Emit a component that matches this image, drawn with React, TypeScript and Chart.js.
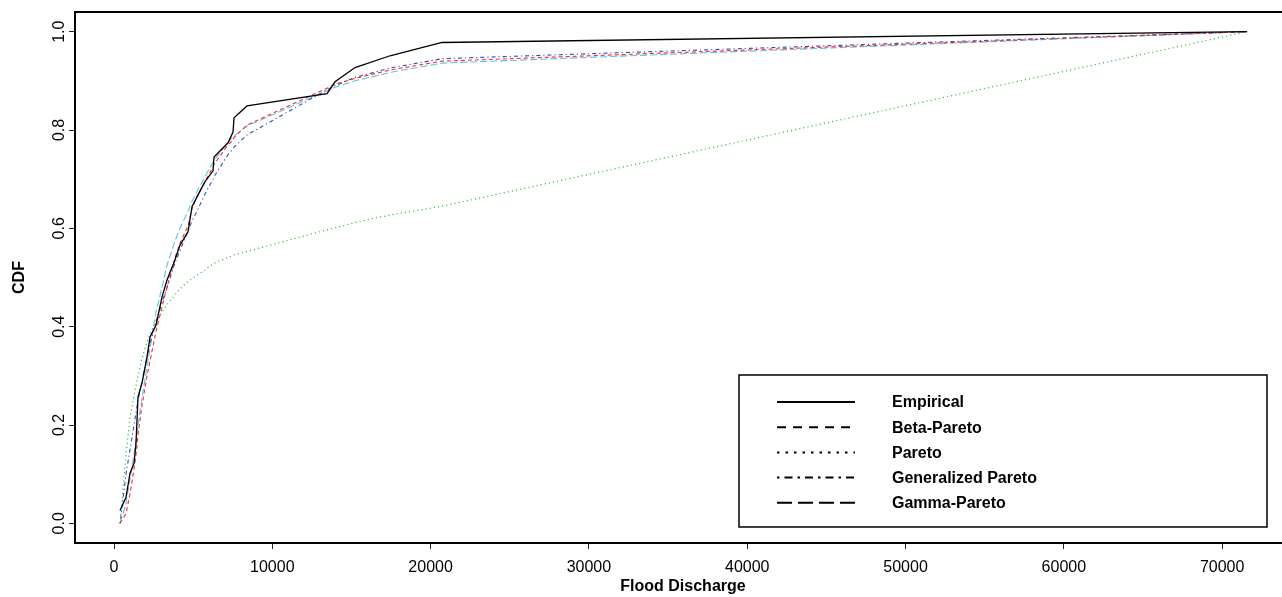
import React, { useEffect, useRef } from "react";
import { Chart, registerables } from "chart.js";

Chart.register(...registerables);

// Flood discharge observations (sorted) at which the CDFs are drawn
const discharge = [379, 758, 1011, 1264, 1390, 1516, 1769, 2085, 2274, 2653, 3032, 3348, 3854, 4170, 4675, 4928, 5243, 5749, 6254, 6318, 7202, 7518, 7581, 8402, 13456, 13961, 15225, 17436, 20721, 71577];

const empiricalCdf = [0.026, 0.053, 0.102, 0.122, 0.163, 0.257, 0.285, 0.338, 0.379, 0.403, 0.46, 0.495, 0.536, 0.566, 0.593, 0.644, 0.664, 0.695, 0.717, 0.745, 0.774, 0.796, 0.825, 0.849, 0.874, 0.898, 0.927, 0.951, 0.978, 1.0];
const betaParetoCdf = [0, 0.02, 0.06, 0.11, 0.14, 0.18, 0.24, 0.3, 0.33, 0.39, 0.44, 0.48, 0.54, 0.57, 0.605, 0.64, 0.665, 0.695, 0.725, 0.73, 0.77, 0.78, 0.785, 0.81, 0.885, 0.893, 0.905, 0.922, 0.94, 1.0];
const paretoCdf = [0, 0.14, 0.216, 0.26, 0.28, 0.3, 0.335, 0.37, 0.385, 0.41, 0.43, 0.445, 0.465, 0.477, 0.492, 0.498, 0.505, 0.515, 0.528, 0.529, 0.541, 0.545, 0.546, 0.553, 0.597, 0.601, 0.612, 0.627, 0.645, 1.0];
const genParetoCdf = [0, 0.1, 0.15, 0.2, 0.225, 0.25, 0.29, 0.34, 0.365, 0.41, 0.45, 0.48, 0.53, 0.555, 0.595, 0.615, 0.635, 0.67, 0.7, 0.705, 0.75, 0.762, 0.765, 0.79, 0.882, 0.89, 0.907, 0.926, 0.945, 1.0];
const gammaParetoCdf = [0, 0.04, 0.09, 0.14, 0.17, 0.2, 0.255, 0.32, 0.355, 0.43, 0.48, 0.525, 0.575, 0.6, 0.635, 0.655, 0.675, 0.705, 0.735, 0.738, 0.775, 0.786, 0.788, 0.808, 0.88, 0.887, 0.9, 0.917, 0.936, 1.0];

const xTicks = [0, 10000, 20000, 30000, 40000, 50000, 60000, 70000];
const yTicks = [0, 0.2, 0.4, 0.6, 0.8, 1.0];

const legendLabels = ["Empirical", "Beta-Pareto", "Pareto", "Generalized Pareto", "Gamma-Pareto"];
const legendDashes = [[], [9, 7], [2.5, 6], [2.5, 5, 8, 5], [15, 6]];

const FONT = "'Liberation Sans', Arial, Helvetica, sans-serif";

const toPoints = (ys: number[]) => discharge.map((x, i) => ({ x, y: ys[i] }));

const boxAndLegend = {
  id: "boxAndLegend",
  afterDraw(chart: any) {
    const { ctx, chartArea } = chart;
    ctx.save();
    // plot box
    ctx.strokeStyle = "#000";
    ctx.lineWidth = 2;
    ctx.setLineDash([]);
    ctx.strokeRect(chartArea.left, chartArea.top, chartArea.right - chartArea.left, chartArea.bottom - chartArea.top);
    // legend
    const bx = 739, by = 375, bw = 528, bh = 152;
    ctx.lineWidth = 1.5;
    ctx.fillStyle = "#fff";
    ctx.fillRect(bx, by, bw, bh);
    ctx.strokeRect(bx, by, bw, bh);
    const rowY0 = 402, rowStep = 25.2;
    legendLabels.forEach((label, i) => {
      const y = rowY0 + i * rowStep;
      ctx.beginPath();
      ctx.setLineDash(legendDashes[i]);
      ctx.lineWidth = 2;
      ctx.strokeStyle = "#000";
      ctx.moveTo(777, y);
      ctx.lineTo(855, y);
      ctx.stroke();
      ctx.setLineDash([]);
      ctx.fillStyle = "#000";
      ctx.font = `bold 16px ${FONT}`;
      ctx.textAlign = "left";
      ctx.textBaseline = "middle";
      ctx.fillText(label, 892, y + 1);
    });
    ctx.restore();
  },
};

export default function App() {
  const ref = useRef<HTMLCanvasElement | null>(null);

  useEffect(() => {
    document.body.style.margin = "0";
    const canvas = ref.current!;
    const line = (label: string, ys: number[], color: string, dash: number[], width: number) => ({
      label,
      data: toPoints(ys),
      showLine: true,
      borderColor: color,
      backgroundColor: color,
      borderDash: dash,
      borderWidth: width,
      pointRadius: 0,
      tension: 0,
    });
    const chart = new Chart(canvas, {
      type: "scatter",
      data: {
        datasets: [
          line("Empirical", empiricalCdf, "#000000", [], 1.3),
          line("Beta-Pareto", betaParetoCdf, "#ff2a2a", [4, 3], 1.1),
          line("Pareto", paretoCdf, "#3cbf3c", [1.2, 3], 1.2),
          line("Generalized Pareto", genParetoCdf, "#2f4fc0", [1.2, 3, 4, 3], 1.1),
          line("Gamma-Pareto", gammaParetoCdf, "#5cc6df", [7, 3], 1.1),
        ] as any,
      },
      options: {
        responsive: false,
        animation: false,
        events: [],
        layout: { padding: { top: 12, right: 9, left: 0, bottom: 0 } },
        plugins: { legend: { display: false }, tooltip: { enabled: false } },
        scales: {
          x: {
            type: "linear",
            min: -2464,
            max: 74350,
            afterBuildTicks: (s: any) => {
              s.ticks = xTicks.map((v) => ({ value: v }));
            },
            afterFit: (s: any) => {
              s.height = 54;
              s.paddingLeft = 0;
              s.paddingRight = 0;
            },
            grid: { drawOnChartArea: false, drawTicks: true, tickLength: 6, color: "#222", lineWidth: 1 },
            border: { display: false },
            ticks: {
              color: "#000",
              font: { family: FONT, size: 16 },
              padding: 9,
              maxRotation: 0,
              minRotation: 0,
              autoSkip: false,
              callback: (v: any) => String(v),
            },
            title: {
              display: true,
              text: "Flood Discharge",
              color: "#000",
              font: { family: FONT, size: 16, weight: "bold" },
              padding: { top: 0, bottom: 1 },
            },
          },
          y: {
            type: "linear",
            min: -0.04,
            max: 1.04,
            afterBuildTicks: (s: any) => {
              s.ticks = yTicks.map((v) => ({ value: v }));
            },
            afterFit: (s: any) => {
              s.width = 75;
              s.paddingTop = 0;
              s.paddingBottom = 0;
            },
            grid: { drawOnChartArea: false, drawTicks: true, tickLength: 6, color: "#222", lineWidth: 1 },
            border: { display: false },
            ticks: {
              color: "#000",
              font: { family: FONT, size: 16 },
              padding: -2,
              minRotation: 90,
              maxRotation: 90,
              crossAlign: "center",
              autoSkip: false,
              callback: (v: any) => Number(v).toFixed(1),
            },
            title: {
              display: true,
              text: "CDF",
              color: "#000",
              font: { family: FONT, size: 16, weight: "bold" },
              padding: { top: 10, bottom: 0 },
            },
          },
        },
      } as any,
      plugins: [boxAndLegend],
    });
    return () => chart.destroy();
  }, []);

  return (
    <div style={{ position: "fixed", left: 0, top: 0, width: 1282, height: 597, overflow: "hidden", background: "#fff" }}>
      <canvas ref={ref} width={1300} height={597} style={{ width: 1300, height: 597, display: "block" }} />
    </div>
  );
}
